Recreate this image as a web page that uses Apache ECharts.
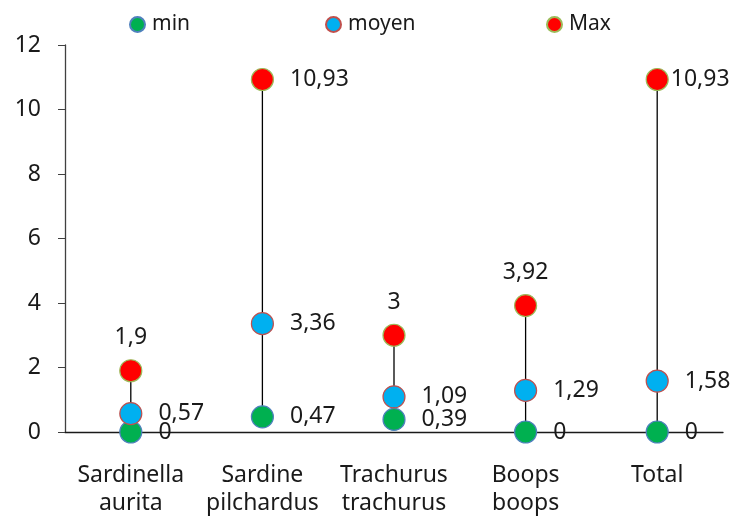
<!DOCTYPE html>
<html>
<head>
<meta charset="utf-8">
<script src="https://cdn.jsdelivr.net/npm/echarts@6/dist/echarts.min.js"></script>
<style>html,body{margin:0;padding:0;background:#fff;}#c{width:734px;height:517px;}</style>
</head>
<body>
<div id="c"></div>
<script>
const categories = ['Sardinella\naurita', 'Sardine\npilchardus', 'Trachurus\ntrachurus', 'Boops\nboops', 'Total'];
const minVals = [0, 0.47, 0.39, 0, 0];
const meanVals = [0.57, 3.36, 1.09, 1.29, 1.58];
const maxVals = [1.9, 10.93, 3, 3.92, 10.93];
const yTicks = [0, 2, 4, 6, 8, 10, 12];

const FONT = 'Noto Sans';
const FS = 23;
const fmt = v => String(v).replace('.', ',');

const chart = echarts.init(document.getElementById('c'));

function labelRight(dist) {
  return { show: true, position: 'right', distance: dist, color: '#1a1a1a', fontFamily: FONT, fontSize: FS,
    formatter: p => fmt(p.value[1]) };
}
function labelTop(dist) {
  return { show: true, position: 'top', distance: dist, color: '#1a1a1a', fontFamily: FONT, fontSize: FS,
    formatter: p => fmt(p.value[1]) };
}

const maxLabelPos = ['top', 'right', 'top', 'top', 'right-close'];

const minData = minVals.map((v, i) => ({ value: [i, v], label: labelRight(16) }));
const meanData = meanVals.map((v, i) => ({ value: [i, v], label: labelRight(16) }));
const maxData = maxVals.map((v, i) => {
  const p = maxLabelPos[i];
  let lab;
  if (p === 'top') lab = labelTop(10);
  else if (p === 'right') lab = labelRight(16);
  else lab = labelRight(2);
  return { value: [i, v], label: lab };
});

const rangeData = categories.map((c, i) => [i, minVals[i], maxVals[i]]);

const legendText = { fontFamily: FONT, fontSize: 21, color: '#1a1a1a', padding: [0, 0, 0, 2] };
const legendCommon = { top: 14, itemWidth: 15, itemHeight: 17, icon: 'circle', textStyle: legendText, itemGap: 0, padding: 0 };

chart.setOption({
  animation: false,
  backgroundColor: '#ffffff',
  grid: { left: 65, right: 11, top: 45, bottom: 84 },
  legend: [
    Object.assign({ data: ['min'], left: 129 }, legendCommon),
    Object.assign({ data: ['moyen'], left: 325 }, legendCommon),
    Object.assign({ data: ['Max'], left: 546 }, legendCommon)
  ],
  xAxis: {
    type: 'category',
    data: categories,
    boundaryGap: true,
    axisLine: { lineStyle: { color: '#1a1a1a', width: 1.3 } },
    axisTick: { show: false },
    axisLabel: { color: '#1a1a1a', fontFamily: FONT, fontSize: FS, lineHeight: 28, margin: 29, interval: 0 },
    splitLine: { show: false }
  },
  yAxis: {
    type: 'value',
    min: yTicks[0],
    max: yTicks[yTicks.length - 1],
    interval: yTicks[1] - yTicks[0],
    axisLine: { show: true, lineStyle: { color: '#404040', width: 1.3 } },
    axisTick: { show: true, inside: false, length: 7, lineStyle: { color: '#404040' } },
    axisLabel: { color: '#1a1a1a', fontFamily: FONT, fontSize: FS, margin: 24 },
    splitLine: { show: false }
  },
  series: [
    {
      type: 'custom',
      name: 'range',
      data: rangeData,
      z: 1,
      silent: true,
      renderItem: (params, api) => {
        const a = api.coord([api.value(0), api.value(1)]);
        const b = api.coord([api.value(0), api.value(2)]);
        return { type: 'line', shape: { x1: a[0], y1: a[1], x2: b[0], y2: b[1] },
          style: { stroke: '#000000', lineWidth: 1.3 } };
      }
    },
    {
      type: 'scatter', name: 'min', data: minData, symbol: 'circle', symbolSize: 22, z: 3,
      itemStyle: { color: '#00B050', borderColor: '#4F81BD', borderWidth: 1.2, opacity: 1 }
    },
    {
      type: 'scatter', name: 'moyen', data: meanData, symbol: 'circle', symbolSize: 22, z: 4,
      itemStyle: { color: '#00B0F0', borderColor: '#C0504D', borderWidth: 1.2, opacity: 1 }
    },
    {
      type: 'scatter', name: 'Max', data: maxData, symbol: 'circle', symbolSize: 22, z: 5,
      itemStyle: { color: '#FF0000', borderColor: '#9BBB59', borderWidth: 1.2, opacity: 1 }
    }
  ]
});
</script>
</body>
</html>
